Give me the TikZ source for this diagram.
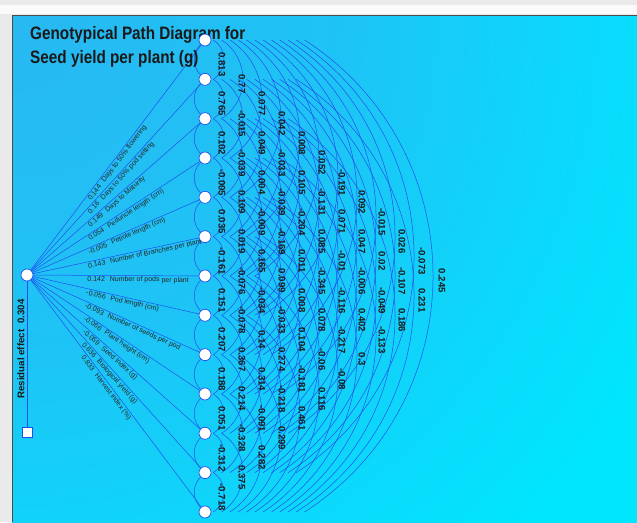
\documentclass[tikz,border=0pt]{standalone}
\usepackage{fontspec}
\setmainfont{Liberation Sans}
\usetikzlibrary{calc}
\definecolor{skyb}{RGB}{40,184,242}
\definecolor{cyanb}{RGB}{0,230,255}
\definecolor{edgeb}{RGB}{30,80,240}
\definecolor{marg}{RGB}{234,234,234}
\pgfdeclareradialshading{skyfade}{\pgfpoint{0bp}{0bp}}{%
  color(0bp)=(skyb); color(10bp)=(skyb!75!cyanb); color(22bp)=(cyanb); color(50bp)=(cyanb)}
\pgfdeclarelayer{back}
\pgfdeclarelayer{bg}
\pgfsetlayers{back,bg,main}
\newcommand\corrlag[2]{%
  \foreach \v [count=\i] in {#2} {%
    \pgfmathtruncatemacro{\j}{\i+#1}%
    \node[corr] at ($(n\i)!0.5!(n\j)+(20*#1-3,5)$) {\v};%
  }%
}
\begin{document}
\begin{tikzpicture}[x=1pt,y=-1pt,
  link/.style={draw=edgeb,line width=0.5pt},
  vnode/.style={circle,draw=edgeb,fill=white,line width=0.7pt,minimum size=12pt,inner sep=0pt},
  rnode/.style={rectangle,draw=edgeb,fill=white,line width=0.8pt,minimum size=10pt,inner sep=0pt},
  corr/.style={font=\fontsize{9.6}{10}\selectfont\bfseries,rotate=-90,inner sep=0pt,text=black!90},
  plab/.style={font=\fontsize{7}{8}\selectfont,text=black!85,inner sep=1pt},
  title/.style={font=\fontsize{18}{20}\selectfont\bfseries,inner sep=0pt,anchor=base west,text=black!90}]
\useasboundingbox (0,0) rectangle (637,522);
\begin{pgfonlayer}{back}
\fill[marg] (0,0) rectangle (637,522);
\fill[white!96!gray] (0,5) rectangle (637,14);
\fill[cyanb] (12,15) rectangle (637,522);
\begin{scope}
\clip (12,15) rectangle (637,522);
\shade[shading=skyfade] (15,20) circle (820);
\end{scope}
\draw[gray!60!black, line width=0.8pt] (12,522) -- (12,15) -- (637,15);
\end{pgfonlayer}

% title
\node[title] (t1) at (30,39) {\scalebox{0.85}[1]{Genotypical Path Diagram for}};
\node[title] (t2) at (30,63) {\scalebox{0.85}[1]{Seed yield per plant (g)}};

% nodes
\foreach \i in {1,...,13} \node[vnode] (n\i) at (205,{40+39.33*(\i-1)}) {};
\node[vnode] (n0) at (27,275) {};
\node[rnode] (res) at (27,432) {};

\begin{pgfonlayer}{bg}
\foreach \i in {1,...,13} \draw[link] (n0) -- (n\i);
\draw[link] (n0) -- (res);
\foreach \i in {1,...,12} {
  \pgfmathtruncatemacro{\j}{\i+1}
  \draw[link] (n\i) to[bend right=45] (n\j);
}
\foreach \k in {1,...,12} {
  \pgfmathsetmacro{\a}{8.3*\k}
  \pgfmathsetmacro{\c}{14.27*\k}
  \pgfmathsetmacro{\e}{9.22*\k}
  \pgfmathtruncatemacro{\m}{13-\k}
  \foreach \i in {1,...,\m} {
    \pgfmathtruncatemacro{\j}{\i+\k}
    \draw[link] ([xshift=\a pt]n\i.center) .. controls +(\c,\e) and +(\c,-\e) .. ([xshift=\a pt]n\j.center);
  }
}
\end{pgfonlayer}

% path labels
\foreach \i/\v/\t in {1/0.144/Days to 50\% flowering,
  2/0.16/Days to 50\% pod setting,
  3/0.149/Days to Maturity,
  4/0.054/Peduncle length (cm),
  5/-0.005/Petiole length (cm),
  6/0.143/Number of Branches per plant,
  7/0.142/Number of pods per plant,
  8/-0.056/Pod length (cm),
  9/-0.093/Number of seeds per pod,
  10/-0.066/Plant height (cm),
  11/-0.059/Seed Index (g),
  12/0.636/Biological yield (g),
  13/0.833/Harvest Index (\%)} {
  \path (n0) -- (n\i) node[plab, pos=0.32, sloped, anchor=north west] {\v\hspace{0.7em}\t};
}

% residual
\node[font=\fontsize{9.7}{12}\selectfont\bfseries, rotate=90, text=black!90, inner sep=0pt] (rtext) at (21,349) {Residual effect\hspace{0.6em}0.304};

% correlations
\corrlag{1}{0.813,0.765,0.102,-0.005,0.035,-0.161,0.151,0.207,0.188,0.051,-0.312,-0.718}
\corrlag{2}{0.77,-0.015,-0.039,0.109,0.019,-0.076,-0.078,0.367,0.214,-0.328,0.375}
\corrlag{3}{0.077,0.049,0.004,-0.009,0.165,-0.034,0.14,0.314,-0.091,0.282}
\corrlag{4}{0.042,-0.033,-0.039,-0.169,0.099,-0.033,0.274,-0.218,0.299}
\corrlag{5}{0.008,0.105,-0.204,0.011,0.008,0.104,-0.181,0.461}
\corrlag{6}{0.052,-0.131,0.085,-0.345,0.078,-0.06,0.116}
\corrlag{7}{-0.191,0.071,-0.01,-0.116,-0.217,-0.08}
\corrlag{8}{0.092,0.047,-0.006,0.402,0.3}
\corrlag{9}{-0.015,0.02,-0.049,-0.133}
\corrlag{10}{0.026,-0.107,0.186}
\corrlag{11}{-0.073,0.231}
\corrlag{12}{0.245}
\end{tikzpicture}
\end{document}
